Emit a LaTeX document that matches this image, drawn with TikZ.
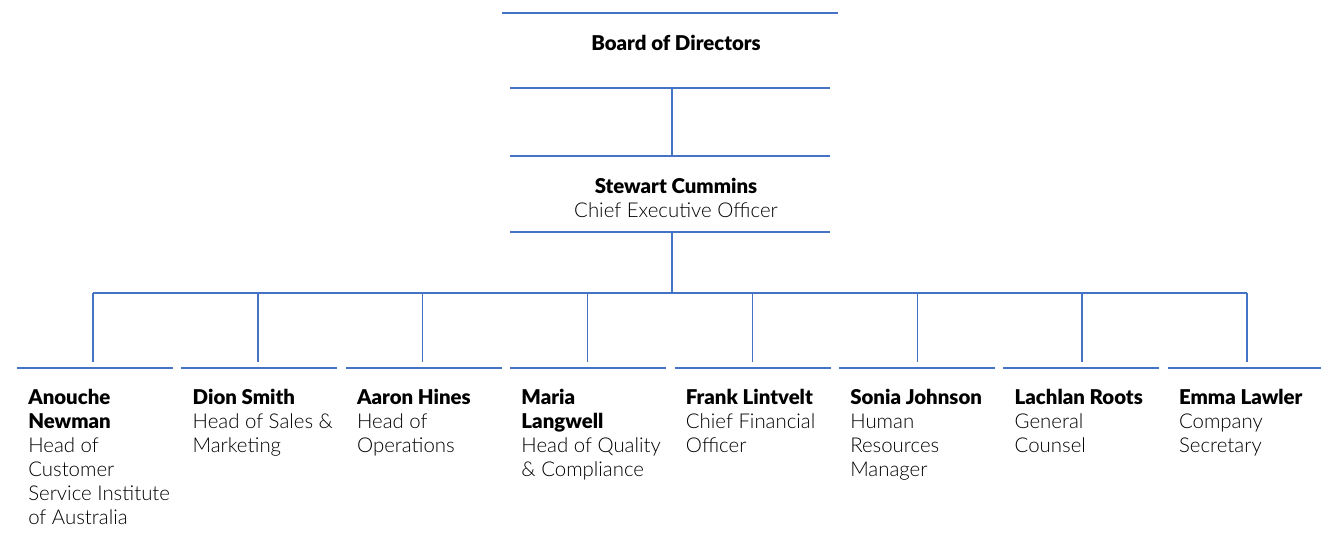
\documentclass[tikz,border=0pt]{standalone}
\usepackage{fontspec}
\setmainfont{Lato}[UprightFont=* Light,BoldFont=* Black]
\definecolor{orgblue}{HTML}{4472C4}

\begin{document}
\begin{tikzpicture}[x=0.025cm,y=-0.025cm,
    rule/.style={orgblue,line width=1.1pt},
    title/.style={inner sep=0pt,align=center,font=\fontsize{14.5}{17}\selectfont},
    staff/.style={inner sep=0pt,anchor=north west,align=left,font=\fontsize{14.5}{17}\selectfont}]
    \useasboundingbox (0,0) rectangle (1321,538);
    % board and chief executive
    \node[title] (board) at (676,43) {\textbf{Board of Directors}};
    \node[title] (ceo) at (676,198) {\textbf{Stewart Cummins}\\Chief Executive Officer};
    \draw[rule] (502,13) -- (838,13);
    \draw[rule] (510,88) -- (830,88);
    \draw[rule] (510,156) -- (830,156);
    \draw[rule] (510,232) -- (830,232);
    \coordinate (board-b) at (672,88);
    \coordinate (ceo-t) at (672,156);
    \coordinate (ceo-b) at (672,232);
    \coordinate (bus) at (672,293);
    \draw[rule] (board-b) -- (ceo-t);
    \draw[rule] (ceo-b) -- (bus);
    \draw[rule] (93,293) -- (1247,293);
    % direct reports
    \foreach \i/\txt in {
        0/{\textbf{Anouche}\\\textbf{Newman}\\Head of\\Customer\\Service Institute\\of Australia},
        1/{\textbf{Dion Smith}\\Head of Sales \&\\Marketing},
        2/{\textbf{Aaron Hines}\\Head of\\Operations},
        3/{\textbf{Maria}\\\textbf{Langwell}\\Head of Quality\\\& Compliance},
        4/{\textbf{Frank Lintvelt}\\Chief Financial\\Officer},
        5/{\textbf{Sonia Johnson}\\Human\\Resources\\Manager},
        6/{\textbf{Lachlan Roots}\\General\\Counsel},
        7/{\textbf{Emma Lawler}\\Company\\Secretary}} {
        \coordinate (drop\i) at (93+164.86*\i,362);
        \draw[rule] (93+164.86*\i,293) -- (drop\i);
        \draw[rule] (17+164.4*\i,368) -- (173+164.4*\i,368);
        \node[staff] (s\i) at (28+164.4*\i,389) {\txt};
    }
\end{tikzpicture}
\end{document}
